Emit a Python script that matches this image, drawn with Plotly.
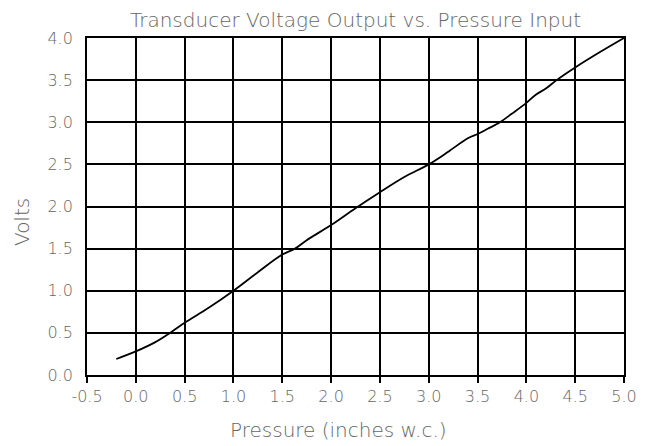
import plotly.graph_objects as go

pressure = [-0.2, 0.0, 0.2, 0.35, 0.5, 0.75, 1.0, 1.25, 1.5, 1.63, 1.75, 2.0, 2.25, 2.5,
            2.75, 3.0, 3.2, 3.4, 3.5, 3.6, 3.73, 3.85, 4.0, 4.1, 4.2, 4.31, 4.5, 4.75, 5.0]
volts = [0.19, 0.28, 0.39, 0.5, 0.62, 0.8, 1.0, 1.22, 1.43, 1.5, 1.6, 1.78, 1.98, 2.17,
         2.35, 2.5, 2.65, 2.81, 2.86, 2.92, 3.0, 3.1, 3.23, 3.33, 3.4, 3.5, 3.65, 3.83, 4.0]

x_ticks = [-0.5, 0.0, 0.5, 1.0, 1.5, 2.0, 2.5, 3.0, 3.5, 4.0, 4.5, 5.0]
y_ticks = [0.0, 0.5, 1.0, 1.5, 2.0, 2.5, 3.0, 3.5, 4.0]

title_text = "Transducer Voltage Output vs. Pressure Input"
x_title = "Pressure (inches w.c.)"
y_title = "Volts"

FONT = "DejaVu Sans"
GRAY = "#666666"

# page has an 8px body margin: figure origin sits at (8, 8) of the window
W, H = 646, 438
L, T, R, B = 79, 30, 30, 71
PW, PH = W - L - R, H - T - B

fig = go.Figure()
fig.add_trace(go.Scatter(x=pressure, y=volts, mode="lines",
                         line=dict(color="black", width=1.8), line_shape="spline",
                         showlegend=False, hoverinfo="skip"))

fig.update_layout(
    width=W, height=H,
    margin=dict(l=L, r=R, t=T, b=B),
    paper_bgcolor="white", plot_bgcolor="white",
    font=dict(family=FONT, color=GRAY, size=16, weight=200),
    title=dict(text=title_text, x=0.5, xref="paper", y=1 - 11.5 / H, yref="container",
               yanchor="middle", font=dict(family=FONT, size=20, color=GRAY, weight=200)),
    annotations=[
        dict(text=x_title, xref="paper", yref="paper", x=(330 - L) / PW, y=-(422 - (T + PH)) / PH,
             yanchor="middle", xanchor="center", showarrow=False,
             font=dict(family=FONT, size=20, color=GRAY, weight=200)),
        dict(text=y_title, xref="paper", yref="paper", x=-(L - 14) / PW, y=((T + PH) - 214) / PH,
             textangle=-90, xanchor="center", yanchor="middle", showarrow=False,
             font=dict(family=FONT, size=20, color=GRAY, weight=200)),
    ],
)
fig.update_xaxes(range=[-0.5, 5.0], tickvals=x_ticks, ticktext=[f"{v:.1f}" for v in x_ticks],
                 showgrid=True, gridcolor="black", gridwidth=1.8,
                 showline=True, linecolor="black", linewidth=1.8, mirror=True,
                 ticks="outside", ticklen=6, tickwidth=1.8, tickcolor="black",
                 zeroline=False, tickfont=dict(family=FONT, size=16, color=GRAY, weight=200))
fig.update_yaxes(range=[0, 4.0], tickvals=y_ticks, ticktext=[f"{v:.1f}" for v in y_ticks],
                 showgrid=True, gridcolor="black", gridwidth=1.8,
                 showline=True, linecolor="black", linewidth=1.8, mirror=True,
                 ticks="", ticklabelstandoff=9,
                 zeroline=False, tickfont=dict(family=FONT, size=16, color=GRAY, weight=200))

fig.write_html("out.html")
